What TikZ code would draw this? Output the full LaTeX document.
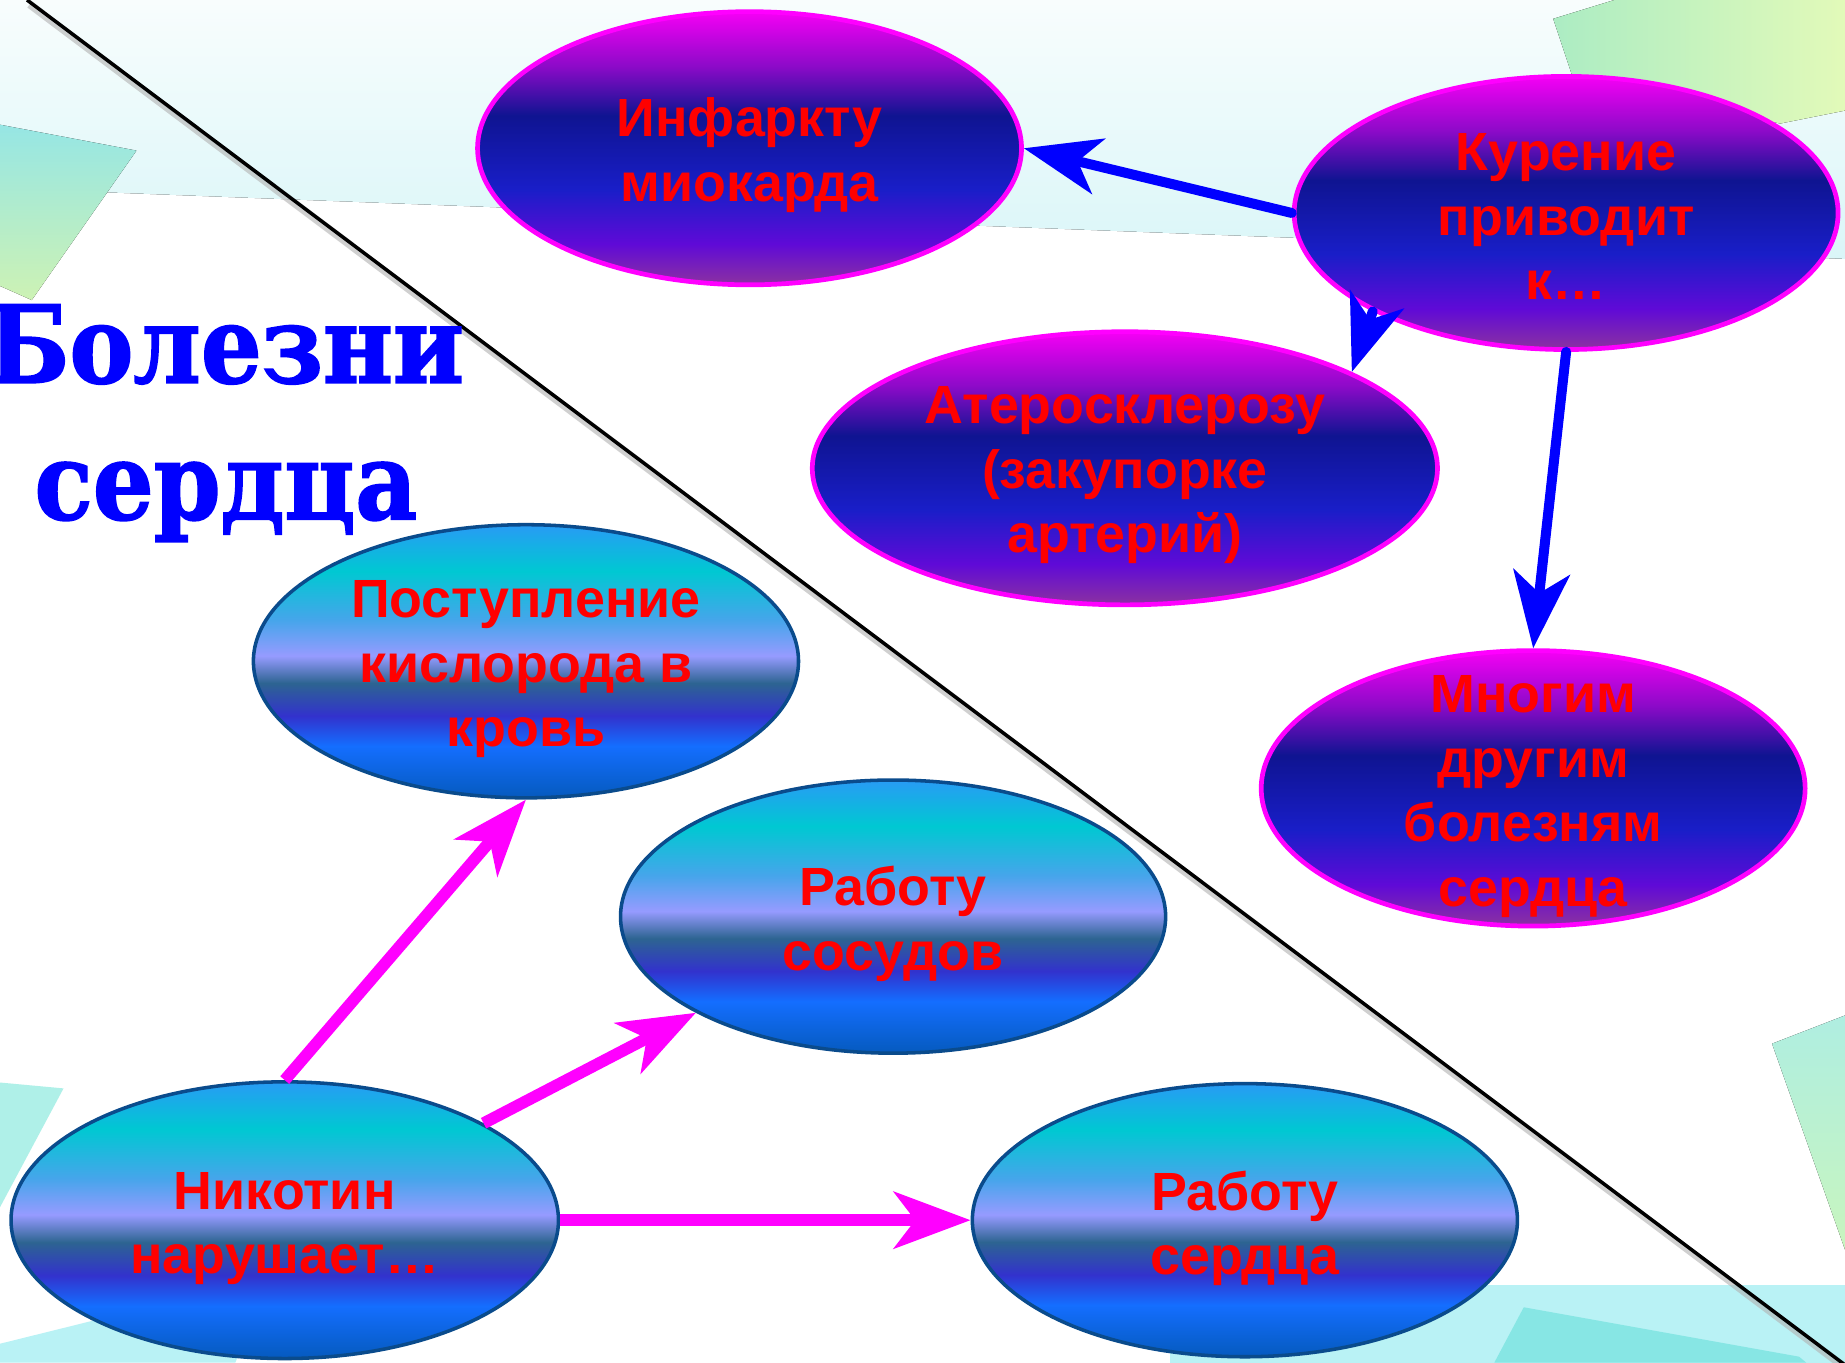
\documentclass[tikz,border=0pt]{standalone}
\usepackage{fontspec}
\setmainfont{Liberation Sans}
\newfontfamily\titlefont{DejaVu Serif Bold}[FakeStretch=0.89, FakeBold=1.5]
\usetikzlibrary{arrows.meta,shapes.geometric}
\definecolor{pA}{RGB}{245,0,245}
\definecolor{pB}{RGB}{140,10,200}
\definecolor{pC}{RGB}{15,20,145}
\definecolor{pD}{RGB}{25,30,200}
\definecolor{pE}{RGB}{95,10,215}
\definecolor{pF}{RGB}{140,50,160}
\definecolor{cA}{RGB}{40,155,245}
\definecolor{cB}{RGB}{0,200,210}
\definecolor{cC}{RGB}{70,165,235}
\definecolor{cD}{RGB}{150,155,255}
\definecolor{cE}{RGB}{45,100,145}
\definecolor{cF}{RGB}{50,50,205}
\definecolor{cG}{RGB}{20,110,255}
\definecolor{cH}{RGB}{5,90,190}
\definecolor{magentaA}{RGB}{255,0,255}
\definecolor{blueA}{RGB}{0,0,255}
\definecolor{redA}{RGB}{255,0,0}
\definecolor{cborder}{RGB}{10,75,140}
\definecolor{bandtop}{RGB}{248,253,253}
\definecolor{bandbot}{RGB}{218,246,248}
\definecolor{leftA}{RGB}{150,230,228}
\definecolor{leftB}{RGB}{205,242,180}
\definecolor{greenA}{RGB}{172,236,195}
\definecolor{greenB}{RGB}{226,250,185}
\definecolor{rightA}{RGB}{175,238,225}
\definecolor{rightB}{RGB}{200,245,190}
\definecolor{lightcyan}{RGB}{185,242,245}
\definecolor{darkcyan}{RGB}{135,230,228}
\definecolor{blcyan}{RGB}{175,240,232}
\pgfdeclareverticalshading{purpshade}{100bp}{color(0bp)=(pF); color(25bp)=(pF); color(32.5bp)=(pE); color(42.5bp)=(pD); color(56bp)=(pC); color(65bp)=(pB); color(75bp)=(pA); color(100bp)=(pA)}
\pgfdeclareverticalshading{cyanshade}{100bp}{color(0bp)=(cH); color(25bp)=(cH); color(34.5bp)=(cG); color(40bp)=(cF); color(46bp)=(cE); color(51bp)=(cD); color(57.5bp)=(cC); color(66.5bp)=(cB); color(75bp)=(cA); color(100bp)=(cA)}
\tikzset{
  purp/.style={ellipse, draw=magentaA, line width=0.04cm, shade, shading=purpshade, inner sep=0pt, minimum width=4.62cm, minimum height=2.32cm},
  cyanell/.style={ellipse, draw=cborder, line width=0.03cm, shade, shading=cyanshade, inner sep=0pt, minimum width=4.63cm, minimum height=2.32cm},
  lbl/.style={text=redA, font=\bfseries\fontsize{13}{15.6}\selectfont, align=center, inner sep=0pt},
  barrow/.style={draw=blueA, line width=0.085cm, line cap=round, -{Stealth[length=6.5mm,width=4.8mm,inset=1.8mm]}},
  marrow/.style={draw=magentaA, line width=0.1cm, -{Stealth[length=6.5mm,width=4.8mm,inset=1.8mm]}},
}
\begin{document}
\begin{tikzpicture}[x=0.01cm, y=-0.01cm]
\useasboundingbox (0,0) rectangle (1568,1158);
\clip (0,0) rectangle (1568,1158);
% background
\fill[white] (0,0) rectangle (1568,1158);
\fill[top color=bandtop, bottom color=bandbot] (0,0) -- (1568,0) -- (1568,220) -- (0,160) -- cycle;
\fill[top color=leftA, bottom color=leftB] (0,106) -- (116,128) -- (27,255) -- (0,243) -- cycle;
\fill[left color=greenA, right color=greenB] (1320,16) -- (1372,0) -- (1568,0) -- (1568,94) -- (1513,105) -- (1400,80) -- (1336,64) -- cycle;
\fill[top color=rightA, bottom color=rightB] (1506,887) -- (1568,863) -- (1568,1062) -- cycle;
\fill[lightcyan] (994,1092) -- (1568,1092) -- (1568,1158) -- (994,1158) -- cycle;
\fill[darkcyan] (1295,1111) -- (1529,1153) -- (1535,1158) -- (1270,1158) -- cycle;
\fill[blcyan] (0,920) -- (54,925) -- (0,1026) -- cycle;
\fill[lightcyan] (0,1142) -- (230,1085) -- (200,1158) -- (0,1158) -- cycle;
% diagonal line
\coordinate (lineA) at (23,0);
\coordinate (lineB) at (1568,1160);
\draw[black!30, line width=0.06cm, opacity=0.6, transform canvas={shift={(0.02cm,-0.04cm)}}] (lineA) -- (lineB);
\draw[black, line width=0.03cm] (lineA) -- (lineB);
% title
\node[font=\titlefont\fontsize{26}{33}\selectfont, text=blueA, align=center, inner sep=0pt, anchor=north] (title) at (192,258) {Болезни\\сердца};
% ellipses
\node[purp] (inf) at (637,126) {};
\node[purp] (kur) at (1331,181) {};
\node[purp, minimum width=5.31cm] (ater) at (956,398) {};
\node[purp, minimum height=2.34cm] (mnog) at (1303,670) {};
\node[cyanell] (post) at (447,562) {};
\node[cyanell] (sos) at (759,779) {};
\node[cyanell, minimum width=4.65cm, minimum height=2.35cm] (nik) at (242,1037) {};
\node[cyanell] (serd) at (1058,1037) {};
% labels
\node[lbl] (tinf) at (637,132) {Инфаркту\\миокарда};
\node[lbl] (tkur) at (1331,184) {Курение\\приводит\\к…};
\node[lbl] (tater) at (956,404) {Атеросклерозу\\(закупорке\\артерий)};
\node[lbl] (tmnog) at (1303,677) {Многим\\другим\\болезням\\сердца};
\node[lbl] (tpost) at (447,569) {Поступление\\кислорода в\\кровь};
\node[lbl] (tsos) at (759,785) {Работу\\сосудов};
\node[lbl] (tnik) at (242,1044) {Никотин\\нарушает…};
\node[lbl] (tserd) at (1058,1044) {Работу\\сердца};
% arrows
\draw[barrow] (kur.west) -- (inf.east);
\draw[barrow] (kur.207) -- (ater.23.5);
\draw[barrow] (kur.south) -- (mnog.north);
\draw[marrow] (nik.north) -- (post.south);
\draw[marrow] (nik.26) -- (sos.206.6);
\draw[marrow] (nik.east) -- (serd.west);
\end{tikzpicture}
\end{document}
